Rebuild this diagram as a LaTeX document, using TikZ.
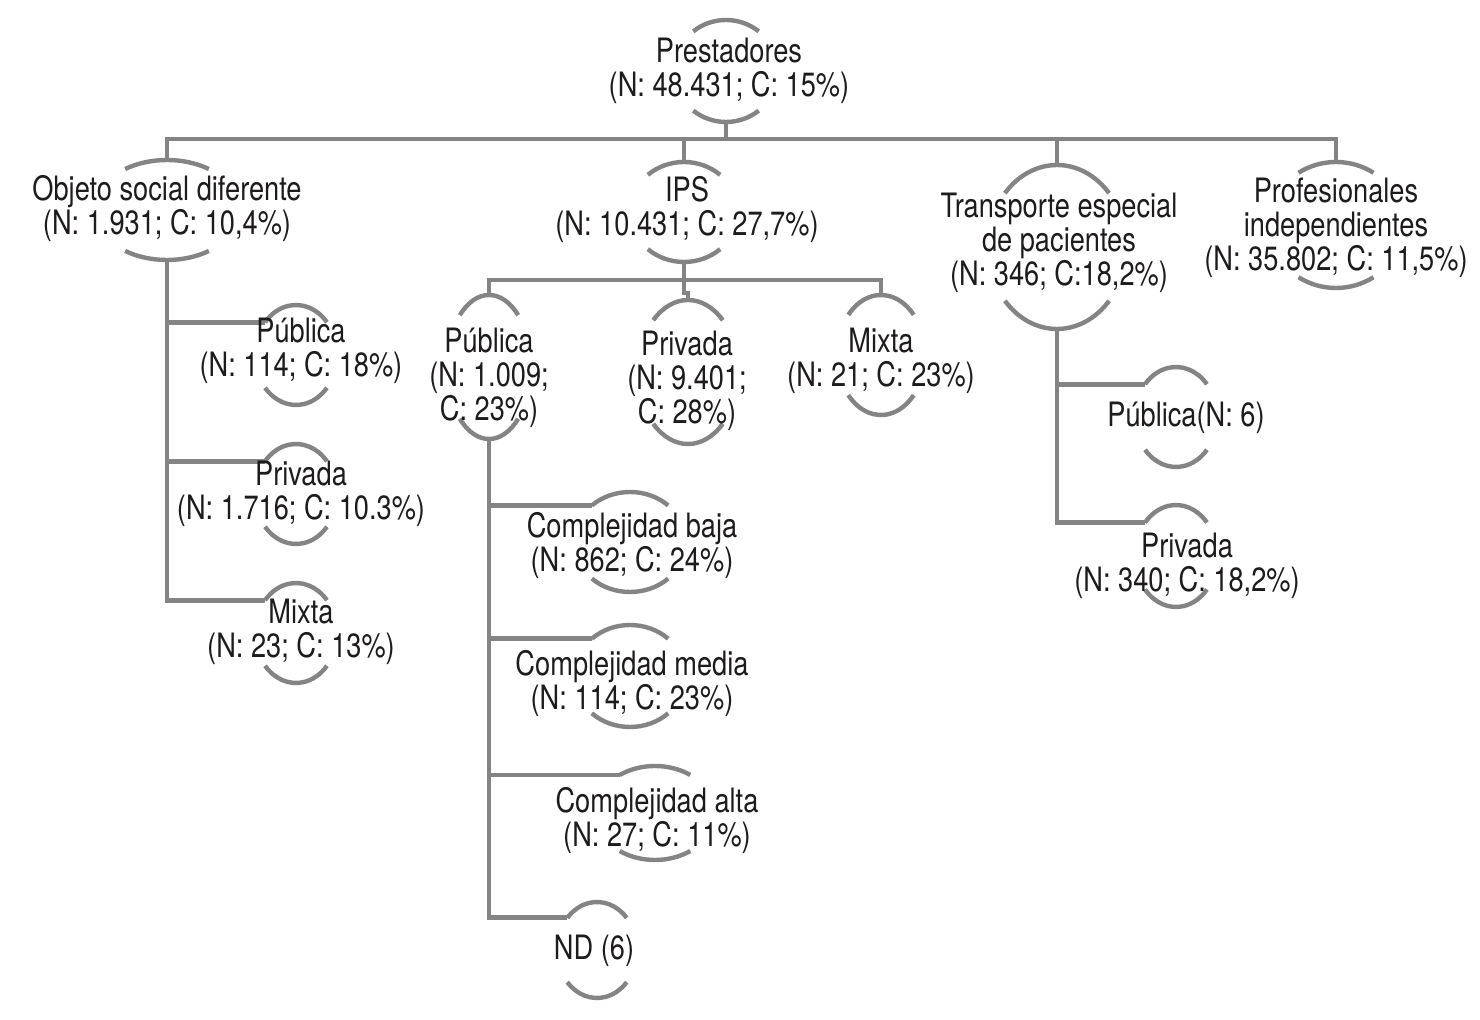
\documentclass[tikz,border=0pt]{standalone}
\usepackage{fontspec}
\setmainfont{TeX Gyre Heros}[FakeStretch=0.81]
\definecolor{lg}{RGB}{132,132,132}
\definecolor{tx}{RGB}{30,27,28}
\tikzset{
  conn/.style={draw=lg, line width=2.4pt},
  arcline/.style={draw=lg, line width=2.2pt},
  lbl/.style={text=tx, align=center, inner sep=0pt, font=\fontsize{16.8}{17}\selectfont}
}
% #1 name, #2 cx, #3 cy, #4 x radius, #5 y radius, #6 parametric angle of arc ends
\newcommand\ovl[6]{%
  \coordinate (#1-t) at ({#2},{#3-#5});
  \coordinate (#1-b) at ({#2},{#3+#5});
  \coordinate (#1-l) at ({#2-#4*cos(#6)},{#3-#5*sin(#6)});
  \draw[arcline] ({#2+#4*cos(#6)},{#3-#5*sin(#6)}) arc[start angle=#6, end angle={180-#6}, x radius={#4*0.5pt}, y radius={#5*0.5pt}];
  \draw[arcline] ({#2-#4*cos(#6)},{#3+#5*sin(#6)}) arc[start angle={180+#6}, end angle={360-#6}, x radius={#4*0.5pt}, y radius={#5*0.5pt}];
}
\begin{document}
\begin{tikzpicture}[x=0.5pt,y=-0.5pt]
\fill[white] (0,0) rectangle (1480,1020);
\useasboundingbox (0,0) rectangle (1480,1020);

% ovals
\ovl{pres}{726}{71}{52}{51}{51}
\ovl{ods}{167}{210}{73}{50}{55}
\ovl{ips}{684}{212}{54}{50}{48}
\ovl{tra}{1057}{247}{69}{82}{41}
\ovl{prof}{1336}{225}{67}{63}{56}
\ovl{odspub}{296}{355}{41}{50}{41}
\ovl{odspriv}{296}{494}{41}{50}{41}
\ovl{odsmix}{296}{633}{41}{50}{41}
\ovl{ipspub}{489}{367}{42}{72}{46}
\ovl{ipspriv}{688}{372}{50}{72}{46}
\ovl{ipsmix}{881}{355}{44}{60}{42}
\ovl{cb}{630}{542}{56}{50}{47}
\ovl{cm}{630}{676}{56}{51}{47}
\ovl{ca}{655}{813}{60}{47}{54}
\ovl{nd}{597}{950}{40}{48}{42}
\ovl{tpub}{1176}{417}{41}{50}{41}
\ovl{tpriv}{1176}{556}{41}{51}{41}

% bus lines
\coordinate (bar1) at (0,139);
\coordinate (bar2) at (0,280);
\coordinate (jog) at (0,293);

% connectors
\draw[conn] (pres-b) -- (pres-b |- bar1);
\draw[conn] (ods-t) -- (ods-t |- bar1) -- (prof-t |- bar1) -- (prof-t);
\draw[conn] (ips-t |- bar1) -- (ips-t);
\draw[conn] (tra-t |- bar1) -- (tra-t);

\draw[conn] (ods-b) |- (odspub-l);
\draw[conn] (ods-b) |- (odspriv-l);
\draw[conn] (ods-b) |- (odsmix-l);

\draw[conn] (ips-b) -- (ips-b |- jog) -- (ipspriv-t |- jog) -- (ipspriv-t);
\draw[conn] (ipspub-t) -- (ipspub-t |- bar2) -- (ipsmix-t |- bar2) -- (ipsmix-t);

\draw[conn] (ipspub-b) |- (cb-l);
\draw[conn] (ipspub-b) |- (cm-l);
\draw[conn] (ipspub-b) |- (ca-l);
\draw[conn] (ipspub-b) |- (nd-l);

\draw[conn] (tra-b) |- (tpub-l);
\draw[conn] (tra-b) |- (tpriv-l);

% labels
\node[lbl] (pres) at (729,71) {Prestadores\\(N: 48.431; C: 15\%)};
\node[lbl] (ods) at (167,209) {Objeto social diferente\\(N: 1.931; C: 10,4\%)};
\node[lbl] (ips) at (687,210) {IPS\\(N: 10.431; C: 27,7\%)};
\node[lbl] (tra) at (1059,243) {Transporte especial\\de pacientes\\(N: 346; C:18,2\%)};
\node[lbl] (prof) at (1336,228) {Profesionales\\independientes\\(N: 35.802; C: 11,5\%)};
\node[lbl] (odspub) at (301,351) {Pública\\(N: 114; C: 18\%)};
\node[lbl] (odspriv) at (301,494) {Privada\\(N: 1.716; C: 10.3\%)};
\node[lbl] (odsmix) at (301,632) {Mixta\\(N: 23; C: 13\%)};
\node[lbl] (ipspub) at (489,378) {Pública\\(N: 1.009;\\C: 23\%)};
\node[lbl] (ipspriv) at (687,381) {Privada\\(N: 9.401;\\C: 28\%)};
\node[lbl] (ipsmix) at (881,361) {Mixta\\(N: 21; C: 23\%)};
\node[lbl] (cb) at (632,546) {Complejidad baja\\(N: 862; C: 24\%)};
\node[lbl] (cm) at (632,684) {Complejidad media\\(N: 114; C: 23\%)};
\node[lbl] (ca) at (657,821) {Complejidad alta\\(N: 27; C: 11\%)};
\node[lbl] (nd) at (594,951) {ND (6)};
\node[lbl] (tpub) at (1186,418) {Pública(N: 6)};
\node[lbl] (tpriv) at (1187,566) {Privada\\(N: 340; C: 18,2\%)};
\end{tikzpicture}
\end{document}
